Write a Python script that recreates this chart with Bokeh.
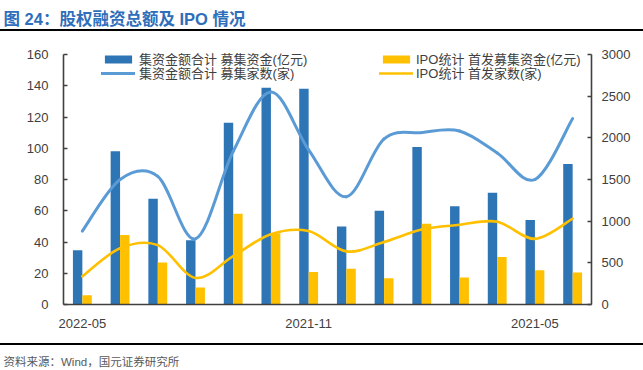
from bokeh.plotting import figure
from bokeh.layouts import column
from bokeh.models import (ColumnDataSource, Range1d, LinearAxis, FixedTicker, Legend,
                          LegendItem, Label)
from bokeh.transform import dodge
from bokeh.embed import file_html
from bokeh.resources import INLINE

# ---------------- data ----------------
months = ["2022-05", "2022-04", "2022-03", "2022-02", "2022-01", "2021-12", "2021-11",
          "2021-10", "2021-09", "2021-08", "2021-07", "2021-06", "2021-05", "2021-04"]
amount_total = [650, 1840, 1270, 770, 2180, 2600, 2590, 935, 1125, 1890, 1180, 1340, 1015, 1685]
amount_ipo = [110, 835, 505, 205, 1090, 855, 390, 430, 315, 970, 325, 570, 410, 385]
count_total = [47, 80, 82, 42, 98, 136, 99, 69, 106, 110, 111, 97, 80, 119]
count_ipo = [18, 36, 38, 17, 31, 45, 47, 34, 40, 48, 51, 53, 42, 55]
left_ticks = [0, 20, 40, 60, 80, 100, 120, 140, 160]
right_ticks = [0, 500, 1000, 1500, 2000, 2500, 3000]
x_label_idx = [0, 6, 12]

label_amt_total = "集资金额合计 募集资金(亿元)"
label_cnt_total = "集资金额合计 募集家数(家)"
label_amt_ipo = "IPO统计 首发募集资金(亿元)"
label_cnt_ipo = "IPO统计 首发家数(家)"
title_text = "图 24：股权融资总额及 IPO 情况"
source_text = "资料来源：Wind，国元证券研究所"

FONT = "'Liberation Sans', 'Noto Sans CJK SC'"
AXIS_C = "#404040"
W = 643
RULE = 2

xs = list(range(len(months)))
src = ColumnDataSource(dict(x=xs, month=months, amt_total=amount_total, amt_ipo=amount_ipo))


def smooth_segments(xv, yv):
    """Bezier control points (Catmull-Rom style smoothing through the data points)."""
    n = len(xv)
    d = dict(x0=[], y0=[], x1=[], y1=[], cx0=[], cy0=[], cx1=[], cy1=[])
    for i in range(n - 1):
        a = max(i - 1, 0)
        b = min(i + 2, n - 1)
        d["x0"].append(xv[i]); d["y0"].append(yv[i])
        d["x1"].append(xv[i + 1]); d["y1"].append(yv[i + 1])
        d["cx0"].append(xv[i] + (xv[i + 1] - xv[a]) / 6.0)
        d["cy0"].append(yv[i] + (yv[i + 1] - yv[a]) / 6.0)
        d["cx1"].append(xv[i + 1] - (xv[b] - xv[i]) / 6.0)
        d["cy1"].append(yv[i + 1] - (yv[b] - yv[i]) / 6.0)
    return ColumnDataSource(d)


def blank_fig(h, styles):
    f = figure(width=W, height=h, output_backend="svg", toolbar_location=None,
               x_axis_type=None, y_axis_type=None, x_range=Range1d(0, 1), y_range=Range1d(0, 1),
               min_border=0, min_border_left=0, min_border_right=0, min_border_top=0,
               min_border_bottom=0, outline_line_color=None, frame_align=False,
               background_fill_color="white", border_fill_color="white", styles=styles)
    return f


# ---------------- header: title (page y 0..29) + 2px black rule (29..31) ----------------
HH = 31
header = blank_fig(HH, {"border-bottom": "%dpx solid black" % RULE})
header.add_layout(Label(x=3, y=HH - RULE - 16, x_units="screen", y_units="screen",
                        text=title_text, text_font=FONT, text_font_size="16.5px",
                        text_font_style="bold", text_color="#2F6EBA", text_baseline="middle"))

# ---------------- main chart (page y 31..343) ----------------
MH = 312
PX_L = 250 / 160.0     # pixels per left-axis unit
PX_R = 250 / 3000.0    # pixels per right-axis unit
TOP_PAD = 23           # frame extends above the 160 / 3000 tick (page y 31 .. 54)
p = figure(width=W, height=MH, output_backend="svg", toolbar_location=None,
           x_range=Range1d(-0.5, len(months) - 0.5),
           y_range=Range1d(0, left_ticks[-1] + TOP_PAD / PX_L),
           min_border_left=63, min_border_right=52, min_border_top=0, min_border_bottom=39,
           background_fill_color="white", border_fill_color="white",
           outline_line_color=None, frame_align=False)
p.xgrid.visible = False
p.ygrid.visible = False
p.extra_y_ranges = {"amt": Range1d(0, right_ticks[-1] + TOP_PAD / PX_R)}

r_amt_total = p.vbar(x=dodge("x", -0.125), top="amt_total", width=0.25, source=src,
                     y_range_name="amt", fill_color="#2E75B6", line_color=None)
r_amt_ipo = p.vbar(x=dodge("x", 0.125), top="amt_ipo", width=0.25, source=src,
                   y_range_name="amt", fill_color="#FFC000", line_color=None)

r_cnt_total = p.bezier(x0="x0", y0="y0", x1="x1", y1="y1", cx0="cx0", cy0="cy0",
                       cx1="cx1", cy1="cy1", source=smooth_segments(xs, count_total),
                       line_color="#5B9BD5", line_width=3, line_cap="round")
r_cnt_ipo = p.bezier(x0="x0", y0="y0", x1="x1", y1="y1", cx0="cx0", cy0="cy0",
                     cx1="cx1", cy1="cy1", source=smooth_segments(xs, count_ipo),
                     line_color="#FFC000", line_width=2.6, line_cap="round")

# axes
yl = p.yaxis[0]
yl.ticker = FixedTicker(ticks=left_ticks)
yl.bounds = (left_ticks[0], left_ticks[-1])
yr = LinearAxis(y_range_name="amt", ticker=FixedTicker(ticks=right_ticks),
                bounds=(right_ticks[0], right_ticks[-1]))
p.add_layout(yr, "right")
for ax, so in ((yl, 15), (yr, 10)):
    ax.axis_line_color = AXIS_C
    ax.axis_line_width = 1.6
    ax.major_tick_in = 4
    ax.major_tick_out = 0
    ax.major_tick_line_color = AXIS_C
    ax.major_tick_line_width = 1.4
    ax.minor_tick_line_color = None
    ax.major_label_text_font_size = "13px"
    ax.major_label_text_font = FONT
    ax.major_label_text_color = AXIS_C
    ax.major_label_standoff = so

xa = p.xaxis[0]
xa.ticker = FixedTicker(ticks=x_label_idx)
xa.major_label_overrides = {i: months[i] for i in x_label_idx}
xa.axis_line_color = AXIS_C
xa.axis_line_width = 1.6
xa.major_tick_line_color = None
xa.minor_tick_line_color = None
xa.major_label_standoff = 8
xa.major_label_text_font_size = "13px"
xa.major_label_text_font = FONT
xa.major_label_text_color = AXIS_C


def make_legend(label, renderer, loc, standoff=4):
    return Legend(items=[LegendItem(label=label, renderers=[renderer])], location=loc,
                  padding=0, margin=0, spacing=0,
                  glyph_width=34, glyph_height=10, label_height=13, label_standoff=standoff,
                  border_line_color=None, background_fill_alpha=0,
                  label_text_font_size="13px", label_text_font=FONT,
                  label_text_color=AXIS_C)


p.add_layout(make_legend(label_amt_total, r_amt_total, (38, 236)))
p.add_layout(make_legend(label_cnt_total, r_cnt_total, (38, 222)))
p.add_layout(make_legend(label_amt_ipo, r_amt_ipo, (316, 236), 3))
p.add_layout(make_legend(label_cnt_ipo, r_cnt_ipo, (316, 222), 3))

# ---------------- footer: 2px black rule (page y 343..345) + source text ----------------
FH = 27
footer = blank_fig(FH, {"border-top": "%dpx solid black" % RULE})
footer.add_layout(Label(x=3, y=FH - RULE - 14, x_units="screen", y_units="screen",
                        text=source_text, text_font=FONT, text_font_size="11.5px",
                        text_color="#595959", text_baseline="middle"))

layout = column(header, p, footer, spacing=0)
open("out.html", "w").write(file_html(layout, INLINE))
